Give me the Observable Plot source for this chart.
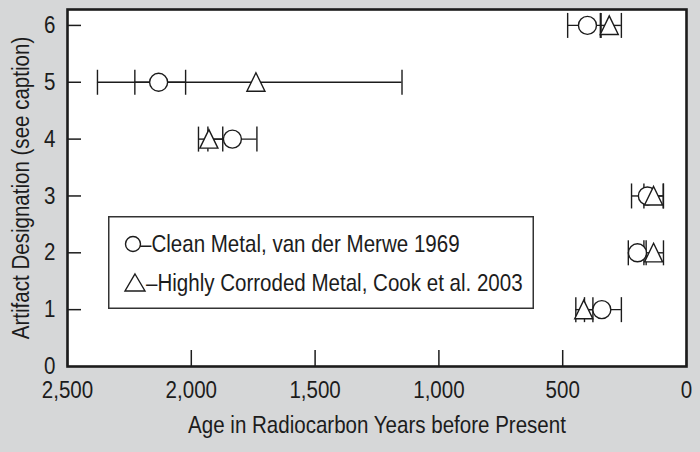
<!DOCTYPE html>
<html>
<head>
<meta charset="utf-8">
<script src="https://cdn.jsdelivr.net/npm/d3@7"></script>
<script src="https://cdn.jsdelivr.net/npm/@observablehq/plot@0.6"></script>
<style>
  html, body { margin: 0; padding: 0; background: #d6d7d8; }
  #wrap { position: relative; width: 700px; height: 452px; overflow: hidden; }
  #legend { position: absolute; left: 108px; top: 216px; }
</style>
</head>
<body>
<div id="wrap"></div>
<script>
// ---- data ----
const artifacts = [1, 2, 3, 4, 5, 6];
// Clean metal, van der Merwe 1969
const cleanAge = [342, 198, 158, 1834, 2132, 400];
const cleanLo  = [263, 163, 94, 1735, 2023, 345];
const cleanHi  = [412, 235, 222, 1933, 2228, 480];
// Highly corroded metal, Cook et al. 2003
const corrAge = [415, 133, 133, 1929, 1739, 312];
const corrLo  = [378, 93, 93, 1873, 1149, 263];
const corrHi  = [447, 172, 172, 1971, 2379, 348];

const xTicks = [2500, 2000, 1500, 1000, 500, 0];
const yTicks = [0, 1, 2, 3, 4, 5, 6];
const xTitle = "Age in Radiocarbon Years before Present";
const yTitle = "Artifact Designation (see caption)";
const legendLabels = ["\u2013Clean Metal, van der Merwe 1969", "\u2013Highly Corroded Metal, Cook et al. 2003"];

// ---- tables ----
const clean = artifacts.map((a, i) => ({artifact: a, age: cleanAge[i], lo: cleanLo[i], hi: cleanHi[i]}));
const corr = artifacts.map((a, i) => ({artifact: a, age: corrAge[i], lo: corrLo[i], hi: corrHi[i]}));
const all = clean.concat(corr);

// ---- symbols ----
const capSym = {draw(ctx, size) { const r = Math.sqrt(size / Math.PI); ctx.moveTo(0, -r); ctx.lineTo(0, r); }};
const triSym = {draw(ctx, size) { const r = Math.sqrt(size / Math.PI); ctx.moveTo(0, -r); ctx.lineTo(r * 0.95, r * 0.95); ctx.lineTo(-r * 0.95, r * 0.95); ctx.closePath(); }};

const ink = "#1c1c1c";
const fontFamily = '"Liberation Sans", Arial, sans-serif';
const fs = 24;

const chart = Plot.plot({
  width: 700,
  height: 452,
  marginLeft: 67,
  marginRight: 14,
  marginTop: 9,
  marginBottom: 86,
  style: {background: "transparent", fontFamily, fontSize: fs + "px", color: ink},
  x: {domain: [2500, 0], axis: null},
  y: {domain: [0, 6.28], axis: null},
  marks: [
    Plot.frame({fill: "white", stroke: null}),
    Plot.gridX(xTicks, {stroke: ink, strokeOpacity: 1, strokeWidth: 1.5, insetTop: 341}),
    Plot.gridY(yTicks.filter(d => d > 0), {stroke: ink, strokeOpacity: 1, strokeWidth: 1.5, insetRight: 605}),
    Plot.ruleY(all, {y: "artifact", x1: "lo", x2: "hi", stroke: ink, strokeWidth: 1.4}),
    Plot.dot(all, {x: "lo", y: "artifact", symbol: capSym, r: 12.5, fill: "none", stroke: ink, strokeWidth: 1.4}),
    Plot.dot(all, {x: "hi", y: "artifact", symbol: capSym, r: 12.5, fill: "none", stroke: ink, strokeWidth: 1.4}),
    Plot.dot(clean, {x: "age", y: "artifact", symbol: "circle", r: 9, fill: "white", stroke: ink, strokeWidth: 1.4}),
    Plot.dot(corr, {x: "age", y: "artifact", symbol: triSym, r: 9.5, fill: "white", stroke: ink, strokeWidth: 1.4}),
    Plot.frame({stroke: ink, strokeWidth: 2.6}),
    Plot.axisX(xTicks, {tickSize: 0, tickPadding: 14, tickFormat: d3.format(","), label: null, fill: ink, fontSize: fs}),
    Plot.axisY(yTicks, {tickSize: 0, tickPadding: 12, tickFormat: d3.format("d"), label: null, fill: ink, fontSize: fs}),
    Plot.text([xTitle], {frameAnchor: "bottom", textAnchor: "middle", lineAnchor: "middle", dy: 59, text: d => d, fill: ink, fontSize: fs}),
    Plot.text([yTitle], {frameAnchor: "left", textAnchor: "middle", lineAnchor: "middle", dx: -46, rotate: -90, text: d => d, fill: ink, fontSize: fs})
  ]
});

const wrap = document.getElementById("wrap");
wrap.appendChild(chart);

// ---- legend (HTML overlay) ----
const ff = fontFamily.replace(/"/g, "'");
const lg = document.createElement("div");
lg.id = "legend";
lg.innerHTML = `
<svg width="426" height="93" xmlns="http://www.w3.org/2000/svg">
  <rect x="0.75" y="0.75" width="424.5" height="91.5" fill="white" stroke="#333" stroke-width="1.5"/>
  <circle cx="25" cy="28" r="7.5" fill="white" stroke="${ink}" stroke-width="1.4"/>
  <text x="32" y="28" dy="0.35em" font-size="${fs}" fill="${ink}" style="font-family:${ff}">${legendLabels[0]}</text>
  <path d="M27,58 L37,75 L17,75 Z" fill="white" stroke="${ink}" stroke-width="1.4"/>
  <text x="38" y="67" dy="0.35em" font-size="${fs}" fill="${ink}" style="font-family:${ff}">${legendLabels[1]}</text>
</svg>`;
wrap.appendChild(lg);

// ---- condense all text horizontally around its anchor (reference uses a condensed face) ----
const titleNode = Array.from(chart.querySelectorAll("text")).find(t => t.textContent === xTitle);
const factor = titleNode ? 378 / titleNode.getComputedTextLength() : 0.8;
wrap.querySelectorAll("text").forEach(t => {
  const X = parseFloat(t.getAttribute("x")) || 0;
  const Y = parseFloat(t.getAttribute("y")) || 0;
  const T = t.getAttribute("transform") || "";
  t.setAttribute("transform", `${T} translate(${X},${Y}) scale(${factor.toFixed(4)},1) translate(${-X},${-Y})`);
});
</script>
</body>
</html>
